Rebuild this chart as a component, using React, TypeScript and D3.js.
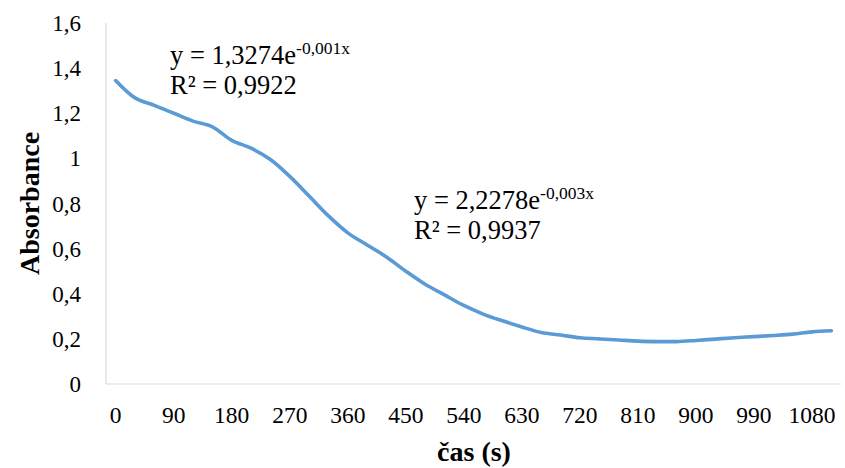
import React from 'react';
import * as d3 from 'd3';

// time points (s), one every 30 s
const times: number[] = [
  0, 30, 60, 90, 120, 150, 180, 210, 240, 270, 300, 330, 360, 390, 420, 450, 480, 510, 540,
  570, 600, 630, 660, 690, 720, 750, 780, 810, 840, 870, 900, 930, 960, 990, 1020, 1050, 1080, 1110
];

// absorbance
const absorbance: number[] = [
  1.345, 1.268, 1.235, 1.2, 1.165, 1.14, 1.08, 1.045, 0.995, 0.92, 0.833, 0.745, 0.67,
  0.616, 0.563, 0.5, 0.442, 0.395, 0.348, 0.31, 0.28, 0.253, 0.228, 0.217, 0.205, 0.2,
  0.195, 0.19, 0.188, 0.188, 0.193, 0.199, 0.205, 0.21, 0.215, 0.221, 0.231, 0.236
];

const yTicks: number[] = [0, 0.2, 0.4, 0.6, 0.8, 1, 1.2, 1.4, 1.6];

const fit1 = { base: 'y = 1,3274e', exp: '-0,001x', r2: 'R² = 0,9922' };
const fit2 = { base: 'y = 2,2278e', exp: '-0,003x', r2: 'R² = 0,9937' };

const font = '"Liberation Serif", "Times New Roman", serif';

function Equation(props: { x: number; y: number; fit: { base: string; exp: string; r2: string } }) {
  const { x, y, fit } = props;
  return (
    <g fontFamily={font} fill="#000">
      <text x={x} y={y} fontSize={26.5}>
        {fit.base}
        <tspan fontSize={17.5} dy={-10}>{fit.exp}</tspan>
      </text>
      <text x={x} y={y + 30} fontSize={26.5}>{fit.r2}</text>
    </g>
  );
}

export default function App() {
  const width = 845;
  const height = 468;
  const margin = { top: 23, right: 4, bottom: 84, left: 106 };
  const innerRight = width - margin.right;
  const innerBottom = height - margin.bottom;

  const xScale = d3
    .scaleBand<number>()
    .domain(times)
    .range([margin.left, innerRight])
    .padding(0);

  const yScale = d3
    .scaleLinear()
    .domain([0, 1.6])
    .range([innerBottom, margin.top]);

  const cx = (t: number) => (xScale(t) as number) + xScale.bandwidth() / 2;

  const line = d3
    .line<number>()
    .x((d, i) => cx(times[i]))
    .y((d) => yScale(d))
    .curve(d3.curveCatmullRom.alpha(0.5));

  const fmt = (v: number) => String(Math.round(v * 10) / 10).replace('.', ',');

  return (
    <svg
      width={width}
      height={height}
      style={{ position: 'absolute', left: 0, top: 0, background: '#fff' }}
    >
      {/* axes */}
      <line x1={margin.left} x2={margin.left} y1={margin.top} y2={innerBottom} stroke="#d9d9d9" strokeWidth={1.2} />
      <line x1={margin.left} x2={innerRight} y1={innerBottom} y2={innerBottom} stroke="#d9d9d9" strokeWidth={1.2} />

      {yTicks.map((v) => (
        <text key={v} x={81} y={yScale(v) + 8} textAnchor="end" fontFamily={font} fontSize={23} fill="#000">
          {fmt(v)}
        </text>
      ))}

      {times.filter((t) => t % 90 === 0).map((t) => (
        <text key={t} x={cx(t)} y={423} textAnchor="middle" fontFamily={font} fontSize={23.5} fill="#000">
          {t}
        </text>
      ))}

      <path d={line(absorbance) || ''} fill="none" stroke="#5b9bd5" strokeWidth={3.6} strokeLinecap="round" strokeLinejoin="round" />

      <Equation x={170} y={64} fit={fit1} />
      <Equation x={414} y={209} fit={fit2} />

      <text
        transform={`translate(39,${(margin.top + innerBottom) / 2}) rotate(-90)`}
        textAnchor="middle"
        fontFamily={font}
        fontSize={28}
        fontWeight="bold"
        fill="#000"
      >
        Absorbance
      </text>
      <text x={474} y={461} textAnchor="middle" fontFamily={font} fontSize={28} fontWeight="bold" fill="#000">
        čas (s)
      </text>
    </svg>
  );
}
